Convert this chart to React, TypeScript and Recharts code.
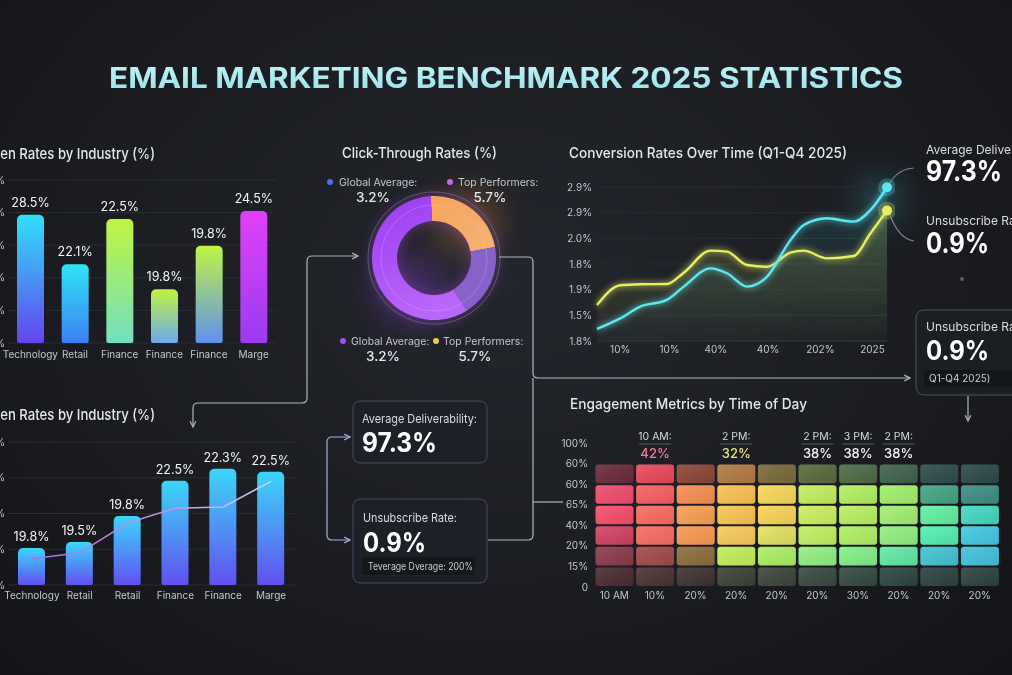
import React from "react";
import {
  BarChart,
  Bar,
  XAxis,
  YAxis,
  CartesianGrid,
  LabelList,
  ComposedChart,
  Line,
  Area,
  PieChart,
  Pie,
  Cell,
} from "recharts";

const FONT = "Inter, 'Noto Sans', sans-serif";
const TICK = { fill: "#c3c7ce", fontSize: 10, fontFamily: FONT };
const GRID = "#2a2d34";

// open rates by industry, upper panel
const OPEN_INDUSTRIES = ["Technology", "Retail", "Finance", "Finance", "Finance", "Marge"];
const OPEN_RATES = [23.6, 14.5, 22.8, 9.9, 17.9, 24.3];
const OPEN_LABELS = ["28.5%", "22.1%", "22.5%", "19.8%", "19.8%", "24.5%"];
const OPEN_TICKS = [0, 6, 12, 18, 24, 30];

// open rates by industry, lower panel
const OPEN2_INDUSTRIES = ["Technology", "Retail", "Retail", "Finance", "Finance", "Marge"];
const OPEN2_RATES = [6.2, 7.2, 11.6, 17.5, 19.5, 19.0];
const OPEN2_TREND = [4.4, 5.4, 10.4, 12.9, 13.1, 17.4];
const OPEN2_LABELS = ["19.8%", "19.5%", "19.8%", "22.5%", "22.3%", "22.5%"];
const OPEN2_TICKS = [0, 6, 12, 18, 24];

// click-through donut
const CTR_SEGMENTS = ["Top Performers", "Mid", "Global Average"];
const CTR_SHARES = [23, 19, 58];

// conversion rates over time
const CONV_T = [0, 8, 14.9, 24.1, 29.9, 39.1, 44.8, 51.7, 58.6, 66.7, 71.3, 79.3, 88.5, 94.3, 100];
const CONV_CYAN = [0.47, 0.88, 1.34, 1.6, 2.12, 2.83, 2.64, 2.12, 2.5, 3.93, 4.52, 4.78, 4.65, 5.1, 5.99];
const CONV_YELLOW = [1.4, 2.17, 2.21, 2.22, 2.66, 3.52, 3.48, 2.96, 2.89, 3.44, 3.52, 3.22, 3.31, 4.2, 5.08];
const CONV_Y_LABELS = ["1.8%", "1.5%", "1.9%", "1.8%", "2.0%", "2.9%", "2.9%"];
const CONV_X_TICKS = [8, 25, 41, 59, 77, 95];
const CONV_X_LABELS = ["10%", "10%", "40%", "40%", "202%", "2025"];

// engagement by time of day
const SLOTS = ["10 AM", "10%", "20%", "20%", "20%", "20%", "30%", "20%", "20%", "20%"];
const HEAT_Y_LABELS = ["0", "15%", "20%", "40%", "65%", "60%", "60%", "100%"];
const HEAT_BANDS = ["r0", "r1", "r2", "r3", "r4", "r5"];
const PEAK_TIMES = ["", "10 AM:", "", "2 PM:", "", "2 PM:", "3 PM:", "2 PM:", "", ""];
const PEAK_VALUES = ["", "42%", "", "32%", "", "38%", "38%", "38%", "", ""];

// cell colours, top row first
const HEAT_COLORS = [
  ["#6b2b3b", "#e9485a", "#8c4636", "#b27a42", "#7a6a3c", "#5a6a3c", "#4d6b44", "#3d624c", "#2c4c4a", "#2b4a4a"],
  ["#f04b6c", "#f95f62", "#f98e52", "#f9c152", "#f8d95a", "#c2f060", "#b2f062", "#a2f06a", "#44a484", "#3e8e84"],
  ["#f94c6a", "#fa6b62", "#f9a052", "#f9c453", "#f9d455", "#caf062", "#baf062", "#a2f072", "#62f0a2", "#44d8c2"],
  ["#d24262", "#f96b62", "#f99a52", "#f9c95a", "#e2e262", "#c2f062", "#b2f062", "#92f082", "#52f0b2", "#42c8e2"],
  ["#8b3a4a", "#a24a4a", "#8c6c3c", "#c2f05a", "#aaf062", "#92f082", "#82f08a", "#62e8a2", "#42c2d2", "#42c2da"],
  ["#4b2b32", "#4b3232", "#3c3232", "#3c4238", "#3c463a", "#374a42", "#324a42", "#2c4642", "#2c4242", "#2c4242"],
];
const PEAK_TINT: Record<number, string> = { 1: "#f47b9b", 3: "#e8e27c" };

const OPEN_GRADS = [
  ["#2fe0f8", "#6444f0"],
  ["#30e4f4", "#3c80f4"],
  ["#bff440", "#72e0c0"],
  ["#bff440", "#6ea8f0"],
  ["#bff444", "#6090f0"],
  ["#e040f8", "#9c3cf0"],
];

const openData = OPEN_INDUSTRIES.map((name, i) => ({
  i,
  name,
  rate: OPEN_RATES[i],
  label: OPEN_LABELS[i],
}));

const open2Data = OPEN2_INDUSTRIES.map((name, i) => ({
  i,
  name,
  rate: OPEN2_RATES[i],
  trend: OPEN2_TREND[i],
  label: OPEN2_LABELS[i],
}));

const ctrData = CTR_SEGMENTS.map((name, i) => ({ name, value: CTR_SHARES[i] }));

const convData = CONV_T.map((t, i) => ({
  t,
  cyan: CONV_CYAN[i],
  yellow: CONV_YELLOW[i],
}));

const heatData = SLOTS.map((slot, i) => ({
  i,
  slot,
  r0: 1,
  r1: 1,
  r2: 1,
  r3: 1,
  r4: 1,
  r5: 1,
  peakTime: PEAK_TIMES[i],
  peakValue: PEAK_VALUES[i],
}));

function Txt(props: any) {
  const { x, y, size = 12, weight = 400, fill = "#e4e7ec", anchor = "start", len, children } = props;
  return (
    <text
      x={x}
      y={y}
      fontSize={size}
      fontWeight={weight}
      fill={fill}
      textAnchor={anchor}
      fontFamily={FONT}
      textLength={len}
      lengthAdjust={len ? "spacingAndGlyphs" : undefined}
    >
      {children}
    </text>
  );
}

function endDot(color: string) {
  return (p: any) => {
    if (p.index !== CONV_T.length - 1) return <g key={"d" + p.index} />;
    return (
      <g key={"d" + p.index}>
        <circle cx={p.cx} cy={p.cy} r={9} fill={color} opacity={0.25} />
        <circle cx={p.cx} cy={p.cy} r={5} fill={color} />
      </g>
    );
  };
}

export default function App() {
  return (
    <div
      style={{
        position: "fixed",
        left: 0,
        top: 0,
        width: 1012,
        height: 675,
        overflow: "hidden",
        fontFamily: FONT,
        background:
          "radial-gradient(ellipse at 50% 42%, #23262c 0%, #1b1d22 55%, #131417 100%)",
      }}
    >
      {/* background glows + shared defs */}
      <svg width={1012} height={675} style={{ position: "absolute", left: 0, top: 0 }}>
        <defs>
          <filter id="blurBig" x="-100%" y="-100%" width="300%" height="300%">
            <feGaussianBlur stdDeviation="16" />
          </filter>
          <filter id="glow" x="-10%" y="-30%" width="120%" height="160%">
            <feGaussianBlur stdDeviation="3" result="b" />
            <feMerge>
              <feMergeNode in="b" />
              <feMergeNode in="SourceGraphic" />
            </feMerge>
          </filter>
          {OPEN_GRADS.map((g, i) => (
            <linearGradient key={i} id={"openGrad" + i} x1="0" y1="0" x2="0" y2="1">
              <stop offset="0%" stopColor={g[0]} />
              <stop offset="100%" stopColor={g[1]} />
            </linearGradient>
          ))}
          <linearGradient id="openLowGrad" x1="0" y1="0" x2="0" y2="1">
            <stop offset="0%" stopColor="#3cd6f8" />
            <stop offset="100%" stopColor="#6250f0" />
          </linearGradient>
          <linearGradient id="trendGrad" x1="0" y1="0" x2="1" y2="0">
            <stop offset="0%" stopColor="#a070e0" />
            <stop offset="55%" stopColor="#c890ea" />
            <stop offset="100%" stopColor="#c4d4ff" />
          </linearGradient>
          <linearGradient id="ctrOrange" x1="0" y1="0" x2="1" y2="1">
            <stop offset="0%" stopColor="#f7a458" />
            <stop offset="100%" stopColor="#f5b276" />
          </linearGradient>
          <linearGradient id="ctrPurple" x1="0" y1="0" x2="0.3" y2="1">
            <stop offset="0%" stopColor="#9a3cf0" />
            <stop offset="100%" stopColor="#b966fa" />
          </linearGradient>
          <linearGradient id="cyanArea" x1="0" y1="0" x2="0" y2="1">
            <stop offset="0%" stopColor="#3cc8d8" stopOpacity={0.25} />
            <stop offset="100%" stopColor="#3cc8d8" stopOpacity={0.02} />
          </linearGradient>
          <linearGradient id="yellowArea" x1="0" y1="0" x2="0" y2="1">
            <stop offset="0%" stopColor="#d8e050" stopOpacity={0.35} />
            <stop offset="100%" stopColor="#d8e050" stopOpacity={0.03} />
          </linearGradient>
          <linearGradient id="cellShine" x1="0" y1="0" x2="1" y2="1">
            <stop offset="0%" stopColor="#ffffff" stopOpacity={0.1} />
            <stop offset="100%" stopColor="#000000" stopOpacity={0.08} />
          </linearGradient>
          <linearGradient id="titleGrad" x1="0" y1="0" x2="0" y2="1">
            <stop offset="0%" stopColor="#c6f4f6" />
            <stop offset="100%" stopColor="#94e0e8" />
          </linearGradient>
        </defs>
        <circle cx={468} cy={222} r={32} fill="#f0903a" opacity={0.3} filter="url(#blurBig)" />
        <circle cx={410} cy={290} r={38} fill="#9a40f0" opacity={0.25} filter="url(#blurBig)" />
        <circle cx={880} cy={200} r={24} fill="#40e0f0" opacity={0.22} filter="url(#blurBig)" />
      </svg>

      {/* upper open-rate bars */}
      <div style={{ position: "absolute", left: -40, top: 160 }}>
        <BarChart width={330} height={210} data={openData} margin={{ top: 20, right: 14, bottom: 0, left: 0 }}>
          <CartesianGrid vertical={false} stroke={GRID} />
          <XAxis
            dataKey="i"
            tickFormatter={(v) => OPEN_INDUSTRIES[v]}
            tick={TICK}
            axisLine={false}
            tickLine={false}
            tickSize={0}
            tickMargin={8}
            height={27}
            interval={0}
          />
          <YAxis
            domain={[0, 30]}
            ticks={OPEN_TICKS}
            tickFormatter={(v) => `${v}%`}
            tick={TICK}
            axisLine={false}
            tickLine={false}
            tickSize={0}
            tickMargin={3}
            width={48}
          />
          <Bar dataKey="rate" barSize={27} radius={[5, 5, 2, 2]} isAnimationActive={false}>
            {openData.map((_, i) => (
              <Cell key={i} fill={`url(#openGrad${i})`} />
            ))}
            <LabelList dataKey="label" position="top" offset={8} fill="#f2f4f7" fontSize={12.5} fontFamily={FONT} />
          </Bar>
        </BarChart>
      </div>

      {/* lower open-rate bars + trend */}
      <div style={{ position: "absolute", left: -40, top: 422 }}>
        <ComposedChart width={345} height={188} data={open2Data} margin={{ top: 20, right: 10, bottom: 0, left: 0 }}>
          <CartesianGrid vertical={false} stroke={GRID} />
          <XAxis
            dataKey="i"
            tickFormatter={(v) => OPEN2_INDUSTRIES[v]}
            tick={TICK}
            axisLine={false}
            tickLine={false}
            tickSize={0}
            tickMargin={7}
            height={25}
            interval={0}
          />
          <YAxis
            domain={[0, 24]}
            ticks={OPEN2_TICKS}
            tickFormatter={(v) => `${v}%`}
            tick={TICK}
            axisLine={false}
            tickLine={false}
            tickSize={0}
            tickMargin={3}
            width={48}
          />
          <Bar dataKey="rate" barSize={27} fill="url(#openLowGrad)" radius={[5, 5, 2, 2]} isAnimationActive={false}>
            <LabelList dataKey="label" position="top" offset={7} fill="#f2f4f7" fontSize={12.5} fontFamily={FONT} />
          </Bar>
          <Line
            dataKey="trend"
            type="linear"
            stroke="url(#trendGrad)"
            strokeWidth={1.5}
            dot={false}
            isAnimationActive={false}
          />
        </ComposedChart>
      </div>

      {/* click-through donut */}
      <div
        style={{
          position: "absolute",
          left: 354,
          top: 178,
          filter: "drop-shadow(0 0 7px rgba(170,80,240,0.4))",
        }}
      >
        <PieChart width={160} height={160}>
          <Pie
            data={ctrData}
            dataKey="value"
            nameKey="name"
            cx="50%"
            cy="50%"
            innerRadius={37}
            outerRadius={62}
            startAngle={93}
            endAngle={-267}
            stroke="none"
            isAnimationActive={false}
          >
            <Cell fill="url(#ctrOrange)" />
            <Cell fill="#8862c8" />
            <Cell fill="url(#ctrPurple)" />
          </Pie>
        </PieChart>
      </div>

      {/* conversion lines */}
      <div style={{ position: "absolute", left: 550, top: 177 }}>
        <ComposedChart width={345} height={186} data={convData} margin={{ top: 10, right: 8, bottom: 0, left: 0 }}>
          <CartesianGrid vertical={false} stroke={GRID} />
          <XAxis
            dataKey="t"
            type="number"
            domain={[0, 100]}
            ticks={CONV_X_TICKS}
            tickFormatter={(v) => CONV_X_LABELS[CONV_X_TICKS.indexOf(v)]}
            tick={TICK}
            axisLine={{ stroke: "#30343b" }}
            tickLine={false}
            tickSize={0}
            tickMargin={5}
            height={22}
          />
          <YAxis
            domain={[0, 6]}
            ticks={[0, 1, 2, 3, 4, 5, 6]}
            tickFormatter={(v) => CONV_Y_LABELS[v]}
            tick={TICK}
            axisLine={false}
            tickLine={false}
            tickSize={0}
            tickMargin={5}
            width={47}
          />
          <Area dataKey="yellow" type="monotone" stroke="none" fill="url(#yellowArea)" isAnimationActive={false} />
          <Area dataKey="cyan" type="monotone" stroke="none" fill="url(#cyanArea)" isAnimationActive={false} />
          <Line
            dataKey="yellow"
            type="monotone"
            stroke="#e6ee62"
            strokeWidth={2.4}
            filter="url(#glow)"
            dot={endDot("#e6ee62")}
            isAnimationActive={false}
          />
          <Line
            dataKey="cyan"
            type="monotone"
            stroke="#5ee6f0"
            strokeWidth={2.4}
            filter="url(#glow)"
            dot={endDot("#5ee6f0")}
            isAnimationActive={false}
          />
        </ComposedChart>
      </div>

      {/* engagement heatmap */}
      <div style={{ position: "absolute", left: 550, top: 413 }}>
        <BarChart
          width={462}
          height={196}
          data={heatData}
          barCategoryGap={0}
          margin={{ top: 30, right: 12, bottom: 0, left: 0 }}
        >
          <XAxis
            dataKey="i"
            tickFormatter={(v) => SLOTS[v]}
            tick={TICK}
            axisLine={false}
            tickLine={false}
            tickSize={0}
            tickMargin={5}
            height={22}
            interval={0}
          />
          <YAxis
            domain={[0, 7]}
            ticks={[0, 1, 2, 3, 4, 5, 6, 7]}
            tickFormatter={(v) => HEAT_Y_LABELS[v]}
            tick={TICK}
            axisLine={false}
            tickLine={false}
            tickSize={0}
            tickMargin={6}
            width={44}
          />
          {HEAT_BANDS.map((band, bi) => (
            <Bar
              key={band}
              dataKey={band}
              stackId="heat"
              isAnimationActive={false}
              shape={(p: any) => {
                const col = p.payload ? p.payload.i : p.index;
                const w = Math.max(p.width - 3, 0);
                const h = Math.max(p.height - 2, 0);
                return (
                  <g>
                    <rect x={p.x + 1.5} y={p.y + 1} width={w} height={h} rx={3} fill={HEAT_COLORS[5 - bi][col]} />
                    <rect x={p.x + 1.5} y={p.y + 1} width={w} height={h} rx={3} fill="url(#cellShine)" />
                  </g>
                );
              }}
            >
              {bi === 5 && (
                <LabelList
                  dataKey="peakTime"
                  content={(p: any) =>
                    p.value ? (
                      <g>
                        <text
                          x={p.x + p.width / 2}
                          y={p.y - 24}
                          textAnchor="middle"
                          fontSize={10.5}
                          fill="#d4d8de"
                          fontFamily={FONT}
                        >
                          {p.value}
                        </text>
                        <line
                          x1={p.x + p.width / 2 - 16}
                          x2={p.x + p.width / 2 + 16}
                          y1={p.y - 19.5}
                          y2={p.y - 19.5}
                          stroke="#5a5f68"
                          strokeWidth={1}
                        />
                      </g>
                    ) : null
                  }
                />
              )}
              {bi === 5 && (
                <LabelList
                  dataKey="peakValue"
                  content={(p: any) =>
                    p.value ? (
                      <text
                        x={p.x + p.width / 2}
                        y={p.y - 6}
                        textAnchor="middle"
                        fontSize={13}
                        fontWeight={500}
                        fill={PEAK_TINT[p.index] || "#f2f4f7"}
                        fontFamily={FONT}
                      >
                        {p.value}
                      </text>
                    ) : null
                  }
                />
              )}
            </Bar>
          ))}
        </BarChart>
      </div>

      {/* connectors, boxes and text */}
      <svg
        width={1012}
        height={675}
        style={{ position: "absolute", left: 0, top: 0, pointerEvents: "none" }}
      >
        <defs>
          <marker
            id="arrow"
            viewBox="0 0 10 10"
            refX="9"
            refY="5"
            markerWidth="6"
            markerHeight="6"
            orient="auto-start-reverse"
          >
            <path d="M1,1 L9,5 L1,9" fill="none" stroke="#d0d4da" strokeWidth="1.6" />
          </marker>
          <marker
            id="arrowV"
            viewBox="0 0 10 10"
            refX="9"
            refY="5"
            markerWidth="6"
            markerHeight="6"
            orient="auto-start-reverse"
          >
            <path d="M1,1 L9,5 L1,9" fill="none" stroke="#a8aee0" strokeWidth="1.6" />
          </marker>
        </defs>

        <Txt x={506} y={88} size={28} weight={700} fill="url(#titleGrad)" anchor="middle" len={794}>
          EMAIL MARKETING BENCHMARK 2025 STATISTICS
        </Txt>

        {/* panel titles */}
        <Txt x={-18} y={159} size={15} weight={500} len={173}>
          Open Rates by Industry (%)
        </Txt>
        <Txt x={-18} y={420} size={15} weight={500} len={173}>
          Open Rates by Industry (%)
        </Txt>
        <Txt x={342} y={158} size={14.5} weight={500} len={155}>
          Click-Through Rates (%)
        </Txt>
        <Txt x={569} y={158} size={14.5} weight={500} len={278}>
          Conversion Rates Over Time (Q1-Q4 2025)
        </Txt>
        <Txt x={570} y={409} size={14.5} weight={500} len={237}>
          Engagement Metrics by Time of Day
        </Txt>

        {/* donut decoration + legends */}
        <circle cx={434} cy={258} r={66} fill="none" stroke="#7a6690" strokeWidth={0.9} opacity={0.8} />
        <circle cx={434} cy={258} r={53} fill="none" stroke="#e6d0ff" strokeWidth={0.8} opacity={0.3} />
        <circle cx={330} cy={182} r={3} fill="#4a70f0" />
        <Txt x={339} y={186} size={10.5} fill="#c3c7ce">Global Average:</Txt>
        <Txt x={373} y={202} size={13.5} weight={500} anchor="middle">3.2%</Txt>
        <circle cx={450} cy={182} r={3} fill="#c46ee6" />
        <Txt x={458} y={186} size={10.5} fill="#c3c7ce">Top Performers:</Txt>
        <Txt x={490} y={202} size={13.5} weight={500} anchor="middle">5.7%</Txt>
        <circle cx={343} cy={341} r={3} fill="#a050f0" />
        <Txt x={351} y={345} size={10.5} fill="#c3c7ce">Global Average:</Txt>
        <Txt x={383} y={361} size={13.5} weight={500} anchor="middle">3.2%</Txt>
        <circle cx={436} cy={341} r={3} fill="#f0c650" />
        <Txt x={443} y={345} size={10.5} fill="#c3c7ce">Top Performers:</Txt>
        <Txt x={475} y={361} size={13.5} weight={500} anchor="middle">5.7%</Txt>

        {/* flow lines */}
        <g fill="none" stroke="#c9ced6" strokeWidth={1.2} opacity={0.85}>
          <path
            d="M358,256 H312 Q307,256 307,261 V398 Q307,403 302,403 H198 Q193,403 193,408 V427"
            markerStart="url(#arrow)"
            markerEnd="url(#arrow)"
          />
          <path d="M499,257 H528 Q533,257 533,262 V373 Q533,378 538,378 H910" markerEnd="url(#arrow)" />
          <path d="M533,378 V535 Q533,540 528,540 H488" />
          <path d="M533,502 H563" />
          <path d="M968,396 V421" markerEnd="url(#arrow)" />
          <path d="M890,183 Q898,169 914,168" stroke="#8d939b" />
          <path d="M890,215 Q899,239 914,241" stroke="#8d939b" />
        </g>
        <path
          d="M350,437 H332 Q327,437 327,442 V535 Q327,540 332,540 H350"
          fill="none"
          stroke="#a8aee0"
          strokeWidth={1.2}
          markerStart="url(#arrowV)"
          markerEnd="url(#arrowV)"
        />

        {/* middle stat boxes */}
        <rect x={353} y={401} width={134} height={62} rx={7} fill="#1d2026" stroke="#4a4f5a" strokeWidth={1} />
        <Txt x={362} y={423} size={12} fill="#dadde3" len={115}>Average Deliverability:</Txt>
        <Txt x={362} y={452} size={27} weight={700} fill="#ffffff" len={75}>97.3%</Txt>

        <rect x={353} y={499} width={134} height={84} rx={7} fill="#1d2026" stroke="#54496a" strokeWidth={1} />
        <Txt x={363} y={522} size={12} fill="#dadde3" len={94}>Unsubscribe Rate:</Txt>
        <Txt x={363} y={552} size={27} weight={700} fill="#ffffff" len={63}>0.9%</Txt>
        <rect x={362} y={557} width={113} height={18} rx={2} fill="#15171b" />
        <Txt x={368} y={570} size={10} fill="#c8ccd2" len={105}>Teverage Dverage: 200%</Txt>

        {/* right column stats */}
        <Txt x={926} y={154} size={12} fill="#dadde3">Average Deliverability:</Txt>
        <Txt x={926} y={181} size={28} weight={700} fill="#ffffff" len={76}>97.3%</Txt>
        <Txt x={926} y={225} size={12} fill="#dadde3">Unsubscribe Rate:</Txt>
        <Txt x={926} y={253} size={28} weight={700} fill="#ffffff" len={63}>0.9%</Txt>
        <circle cx={962} cy={279} r={2} fill="#5a5f66" />

        <rect x={916} y={310} width={130} height={85} rx={8} fill="#1b1e23" stroke="#4f555e" strokeWidth={1} />
        <Txt x={926} y={331} size={12} fill="#dadde3">Unsubscribe Rate:</Txt>
        <Txt x={926} y={360} size={27} weight={700} fill="#ffffff" len={63}>0.9%</Txt>
        <rect x={924} y={370} width={100} height={17} rx={2} fill="#141619" />
        <Txt x={929} y={382} size={10} fill="#c8ccd2">Q1-Q4 2025)</Txt>
      </svg>
    </div>
  );
}
